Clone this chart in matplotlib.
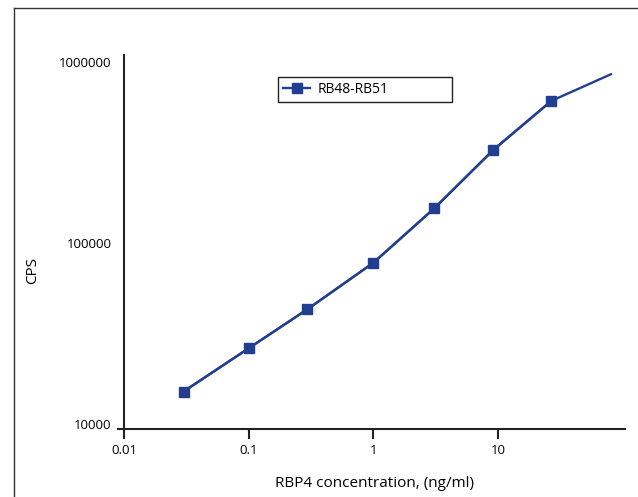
import matplotlib
matplotlib.use('Agg')
import matplotlib.pyplot as plt
from matplotlib.lines import Line2D

plt.rcParams['font.family'] = ['Open Sans', 'DejaVu Sans']

# RBP4 concentration (ng/ml) and signal (CPS)
conc = [0.03, 0.1, 0.295, 1.0, 3.08, 9.15, 26.7]
cps = [15100, 26200, 43000, 77800, 155600, 326800, 609600]
# line runs on past the last marker
conc_end = 80
cps_end = 855000
series_name = 'RB48-RB51'
xticks = [0.01, 0.1, 1, 10]
xtick_labels = ['0.01', '0.1', '1', '10']
yticks = [10000, 100000, 1000000]
ytick_labels = ['10000', '100000', '1000000']

W, H = 638, 497
fig = plt.figure(figsize=(W / 100, H / 100), dpi=100)
ax = fig.add_axes([124 / W, 68 / H, 501 / W, 374 / H])

col = '#223f8f'
ax.plot(conc + [conc_end], cps + [cps_end], color=col, lw=1.7)
ax.plot(conc, cps, color=col, lw=1.7, marker='s', markersize=7,
        label=series_name)

ax.set_xscale('log')
ax.set_yscale('log')
ax.set_xlim(0.01, 104)
ax.set_ylim(9380, 1.093e6)

for s in ['top', 'right']:
    ax.spines[s].set_visible(False)
for s in ['left', 'bottom']:
    ax.spines[s].set_linewidth(1.5)
    ax.spines[s].set_color('#222222')

ax.set_xticks(xticks)
ax.set_xticklabels(xtick_labels)
ax.xaxis.set_minor_locator(matplotlib.ticker.NullLocator())
ax.tick_params(axis='x', direction='out', length=7, width=1.5,
               color='#222222', labelsize=9.5, pad=4)
ax.set_yticks(yticks)
ax.set_yticklabels(ytick_labels)
ax.yaxis.set_minor_locator(matplotlib.ticker.NullLocator())
ax.tick_params(axis='y', length=0, labelsize=9.5, pad=9)

# little overhang of the x axis to the left
ax.plot([-0.012, 0], [0, 0], transform=ax.transAxes, color='#222222',
        lw=1.5, clip_on=False)

ax.set_xlabel('RBP4 concentration, (ng/ml)', fontsize=11)
ax.xaxis.set_label_coords(0.5, -0.125)
ax.set_ylabel('CPS', fontsize=11)
ax.yaxis.set_label_coords(-0.168, 0.425)

leg = ax.legend(loc='upper left', bbox_to_anchor=(0.307, 0.869, 0.347, 0.072),
                mode='expand', borderaxespad=0, fancybox=False,
                fontsize=10, handlelength=2.0, handletextpad=0.5,
                borderpad=0.35, framealpha=1)
leg.get_frame().set_edgecolor('#222222')
leg.get_frame().set_linewidth(1.0)

# outer frame (only left and top edges visible)
fig.add_artist(Line2D([14 / W, 14 / W], [0, 1 - 8 / H], color='#333333',
                      lw=1.0, transform=fig.transFigure))
fig.add_artist(Line2D([14 / W, 1], [1 - 8 / H, 1 - 8 / H], color='#333333',
                      lw=1.0, transform=fig.transFigure))

fig.savefig('out.png', dpi=100)
